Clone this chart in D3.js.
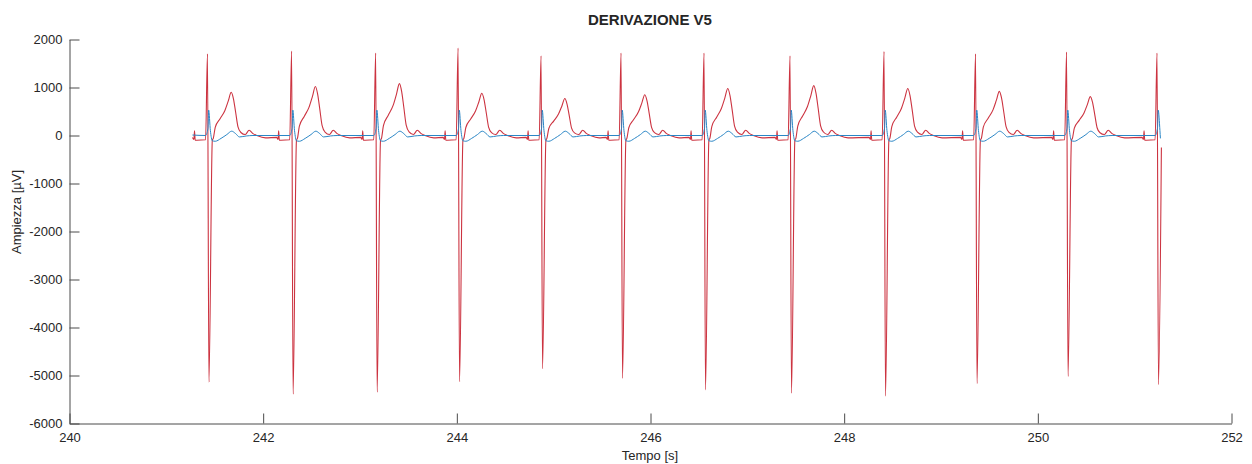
<!DOCTYPE html>
<html><head><meta charset="utf-8">
<script src="https://cdn.jsdelivr.net/npm/d3@7"></script>
<style>
body{margin:0;background:#fff}
svg{display:block}
text{font-family:"Liberation Sans",Arial,Helvetica,sans-serif;fill:#262626}
</style>
</head><body><svg id="c" width="1252" height="464"></svg>
<script>
// ---- tick labels ----
const xTicks = [240, 242, 244, 246, 248, 250, 252];
const yTicks = [-6000, -5000, -4000, -3000, -2000, -1000, 0, 1000, 2000];

// ---- per-beat values (red trace) ----
const rTimes = [241.425, 242.294, 243.162, 244.013, 244.870, 245.696, 246.553, 247.441, 248.412, 249.357, 250.297, 251.231];
const rAmp   = [1700, 1760, 1720, 1820, 1660, 1720, 1720, 1660, 1750, 1700, 1740, 1720];
const sAmp   = [-5140, -5390, -5350, -5130, -4860, -5060, -5300, -5370, -5430, -5170, -5020, -5190];
const tAmp   = [900, 1020, 1080, 880, 770, 850, 980, 1040, 980, 920, 810];

// red beat shape: offsets (s) from R peak
const preOff  = [-0.155, -0.140, -0.134, -0.127, -0.110, -0.020];
const preVal  = [-40, -80, 100, -100, -100, -90];
const qrsOff  = [0.015, 0.050];          // S trough, end of upstroke
const qrsEnd  = [-100];                  // value at end of upstroke
const stOff   = [0.060, 0.080, 0.130, 0.180, 0.215, 0.245, 0.268, 0.290, 0.315, 0.345];
const stShape = [-0.07, 0.19, 0.39, 0.58, 0.80, 1.00, 0.85, 0.55, 0.20, 0.07]; // fraction of T peak
const tailOff = [0.390, 0.430, 0.470, 0.510, 0.600];
const tailVal = [20, 110, 40, 0, -50];
const redEnd  = {dt: 0.045, v: -250};

// blue trace shape
const blueOff = [-0.020, 0.005, 0.012, 0.030, 0.050, 0.080, 0.140, 0.200, 0.250, 0.290, 0.330, 0.400, 0.470];
const blueVal = [0, 150, 530, 100, -110, -120, -60, 20, 90, 40, -30, -10, 0];
const blueStart = {dt: -0.155, v: 10};
const blueEnd   = {dt: 0.035, v: -60};

// ---- build point lists ----
const red = [];
rTimes.forEach((r, i) => {
  preOff.forEach((o, k) => red.push([r + o, preVal[k]]));
  red.push([r, rAmp[i]]);
  red.push([r + qrsOff[0], sAmp[i]]);
  if (i < rTimes.length - 1) {
    red.push([r + qrsOff[1], qrsEnd[0]]);
    stOff.forEach((o, k) => red.push([r + o, k === 0 ? -60 : stShape[k] * tAmp[i]]));
    tailOff.forEach((o, k) => red.push([r + o, tailVal[k]]));
  } else {
    red.push([r + redEnd.dt, redEnd.v]);
  }
});

const blue = [[rTimes[0] + blueStart.dt, blueStart.v]];
rTimes.forEach((r, i) => {
  if (i < rTimes.length - 1) {
    blueOff.forEach((o, k) => blue.push([r + o, blueVal[k]]));
  } else {
    blueOff.slice(0, 4).forEach((o, k) => blue.push([r + o, blueVal[k]]));
    blue.push([r + blueEnd.dt, blueEnd.v]);
  }
});

// ---- chart ----
const svg = d3.select('#c');
const x = d3.scaleLinear().domain([240, 252]).range([69.5, 1231.5]);
const y = d3.scaleLinear().domain([-6000, 2000]).range([423.5, 39.5]);

const line = d3.line().x(d => x(d[0])).y(d => y(d[1])).curve(d3.curveMonotoneX);

svg.append('path').datum(red).attr('d', line)
  .attr('fill', 'none').attr('stroke', '#cc3340').attr('stroke-width', 1.1);
svg.append('path').datum(blue).attr('d', line)
  .attr('fill', 'none').attr('stroke', '#2a86c6').attr('stroke-width', 1);

const gx = svg.append('g').attr('transform', 'translate(0,423.5)')
  .call(d3.axisBottom(x).tickValues(xTicks).tickSizeInner(-10).tickSizeOuter(0).tickPadding(9).tickFormat(d3.format('d')));
const gy = svg.append('g').attr('transform', 'translate(69.5,0)')
  .call(d3.axisLeft(y).tickValues(yTicks).tickSizeInner(-10).tickSizeOuter(0).tickPadding(7).tickFormat(d3.format('d')));
[gx, gy].forEach(g => {
  g.selectAll('path,line').attr('stroke', '#4a4a4a');
  g.selectAll('text').attr('font-size', 13).attr('fill', '#262626')
    .attr('font-family', '"Liberation Sans",Arial,sans-serif');
});
gy.selectAll('text').text(d => String(d));

svg.append('text').attr('x', 650).attr('y', 25).attr('text-anchor', 'middle')
  .attr('font-size', 15).attr('font-weight', 'bold').text('DERIVAZIONE V5');
svg.append('text').attr('x', 650).attr('y', 460).attr('text-anchor', 'middle')
  .attr('font-size', 13).text('Tempo [s]');
svg.append('text').attr('transform', 'translate(21,212) rotate(-90)').attr('text-anchor', 'middle')
  .attr('font-size', 13).text('Ampiezza [µV]');
</script>
</body></html>
